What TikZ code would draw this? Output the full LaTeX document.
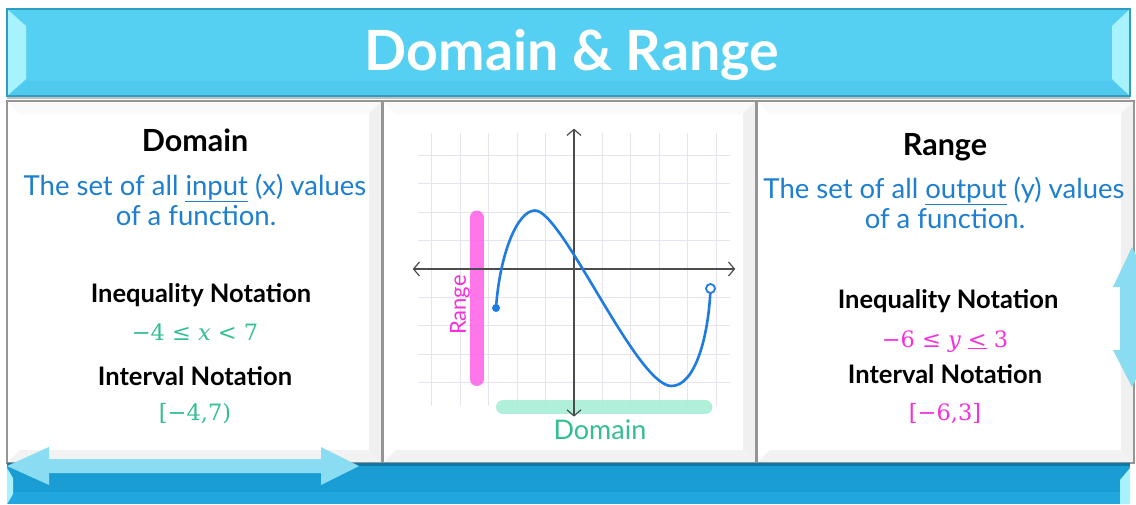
\documentclass[tikz,border=0pt]{standalone}
\usepackage{fontspec}
\setmainfont{Lato}
\newfontfamily\numfont{DejaVu Serif}
\usetikzlibrary{arrows.meta}

\definecolor{barcyan}{HTML}{55D0F2}
\definecolor{barline}{HTML}{2E9DC0}
\definecolor{barfacet}{HTML}{A8F2FE}
\definecolor{barshade}{HTML}{4FCAEE}
\definecolor{footblue}{HTML}{1A9DD3}
\definecolor{footline}{HTML}{0F78A8}
\definecolor{footlow}{HTML}{21A7DE}
\definecolor{arrowblue}{HTML}{8ADCF2}
\definecolor{defblue}{HTML}{1E7FD0}
\definecolor{domgreen}{HTML}{33BF8E}
\definecolor{rangepink}{HTML}{F72FDB}
\definecolor{barpink}{HTML}{FF5FE8}
\definecolor{barmint}{HTML}{A3EDD4}
\definecolor{curveblue}{HTML}{1F7BE0}
\definecolor{gridlav}{HTML}{E8E2EE}
\definecolor{framegray}{HTML}{959595}

% bevelled white panel between two corners
\newcommand{\panel}[4]{
	\fill[white] (#1,#2) rectangle (#3,#4);
	\fill[black!2] (#1,#2) -- (#3,#2) -- (#3-13,#2+13) -- (#1+13,#2+13) -- cycle;
	\fill[black!6] (#3,#2) -- (#3,#4) -- (#3-13,#4-13) -- (#3-13,#2+13) -- cycle;
	\fill[black!5] (#1,#4) -- (#3,#4) -- (#3-13,#4-13) -- (#1+13,#4-13) -- cycle;
	\draw[framegray, line width=1.5] (#1,#2) rectangle (#3,#4)}
\newcommand{\hdouble}[3]{\fill[arrowblue] (#1,#3) -- ++(42,-19) -- ++(0,12) -- (#2-38,#3-7)
	-- ++(0,-12) -- (#2,#3) -- ++(-38,19) -- ++(0,-12) -- (#1+42,#3+7) -- ++(0,12) -- cycle}
\newcommand{\vdouble}[3]{\fill[arrowblue] (#1,#2) -- ++(-19,40) -- ++(7,0) -- (#1-12,#3-37)
	-- ++(-7,0) -- (#1,#3) -- ++(19,-37) -- ++(-7,0) -- (#1+12,#2+40) -- ++(7,0) -- cycle}

\tikzset{
	heading/.style={font=\bfseries\fontsize{30.5}{33}\selectfont, anchor=base},
	deftext/.style={text=defblue, font=\fontsize{27.5}{30}\selectfont, anchor=base},
	notehead/.style={font=\bfseries\fontsize{25.5}{28}\selectfont, anchor=base},
	notemath/.style={font=\numfont\fontsize{22.5}{26}\selectfont, anchor=base},
	gridline/.style={gridlav, line width=0.9pt},
	axisline/.style={black!70, line width=1.2pt, {Straight Barb[length=6pt,width=14pt]}-{Straight Barb[length=6pt,width=14pt]}},
	fbar/.style={line width=14pt, line cap=round, opacity=.85},
}

\begin{document}
\begin{tikzpicture}[x=1pt, y=-1pt]
	\useasboundingbox (0,0) rectangle (1136,504);
	\fill[white] (0,0) rectangle (1136,504);
%Title bar
	\fill[barcyan] (7,9) rectangle (1130,96);
	\fill[barshade] (7,96) -- (26,81) -- (1112,81) -- (1130,96) -- cycle;
	\fill[barfacet] (7,9) -- (26,26) -- (26,79) -- (7,96) -- cycle;
	\fill[barfacet] (1130,9) -- (1112,26) -- (1112,79) -- (1130,96) -- cycle;
	\draw[barline, line width=2] (7,9) rectangle (1130,96);
	\draw[black!25, line width=1.5] (7,98) -- (1130,98);
	\node[text=white, font=\bfseries\fontsize{55.5}{60}\selectfont, anchor=base] (title) at (572,70) {Domain \& Range};
%Panels
	\panel{7}{101}{382}{463};
	\panel{383}{101}{756}{463};
	\panel{757}{101}{1134}{463};
%Footer bar
	\fill[footblue] (7,464) rectangle (1130,504);
	\fill[footlow] (7,492) rectangle (1130,504);
	\draw[footline, line width=3] (7,464) -- (1130,464);
	\fill[barfacet] (7,468) -- (13,478) -- (13,494) -- (7,504) -- cycle;
	\fill[barfacet] (1130,468) -- (1120,480) -- (1120,504) -- (1130,504) -- cycle;
	\hdouble{7}{359}{466};
	\vdouble{1132}{247}{387};
%Domain side
	\node[heading] (domhead) at (195,151) {Domain};
	\node[deftext] (domdef) at (195,195) {The set of all \underline{input} (x) values};
	\node[deftext] (domdef2) at (196,225) {of a function.};
	\node[notehead] (domineq) at (201,302) {Inequality Notation};
	\node[notemath, text=domgreen] (domineqv) at (195,340) {−4 ≤ {\itshape x} < 7};
	\node[notehead] (domint) at (195,385) {Interval Notation};
	\node[notemath, text=domgreen] (domintv) at (195,420) {[−4,7)};
%Range side
	\node[heading] (ranhead) at (945,155) {Range};
	\node[deftext] (randef) at (944,198) {The set of all \underline{output} (y) values};
	\node[deftext] (randef2) at (945,228) {of a function.};
	\node[notehead] (ranineq) at (948,308) {Inequality Notation};
	\node[notemath, text=rangepink] (ranineqv) at (945,347) {−6 ≤ {\itshape y} \underline{<} 3};
	\node[notehead] (ranint) at (945,383) {Interval Notation};
	\node[notemath, text=rangepink] (ranintv) at (945,420) {[−6,3]};
%The graph
	\begin{scope}[shift={(574,269)}, x=19.5pt, y=19.5pt]
		\draw[gridline] (-8,-7) grid (8,7);
		\draw[fbar, barpink] (-5,2.64) -- (-5,-5.64);
		\draw[fbar, barmint] (-3.64,-7.1) -- (6.74,-7.1);
		\draw[axisline] (-8.27,0) -- (8.27,0);
		\draw[axisline] (0,-7.57) -- (0,7.2);
		\coordinate (p0) at (-4,-2);
		\coordinate (p1) at (7,-1);
		\draw[curveblue, line width=2.6pt] (p0) .. controls (-3.8,0.8) and (-2.9,3) .. (-2,3)
			.. controls (-0.6,3) and (3.2,-6) .. (5,-6)
			.. controls (6.2,-6) and (6.9,-3.5) .. (p1);
		\fill[curveblue] (p0) circle (4pt);
		\draw[curveblue, fill=white, line width=1.8pt] (p1) circle (4.5pt);
		\node[rotate=90, text=rangepink, font=\fontsize{22}{24}\selectfont] (ranlbl) at (-5.85,-1.85) {Range};
		\node[text=domgreen, font=\fontsize{27}{30}\selectfont] (domlbl) at (1.33,-8.26) {Domain};
	\end{scope}
\end{tikzpicture}
\end{document}
